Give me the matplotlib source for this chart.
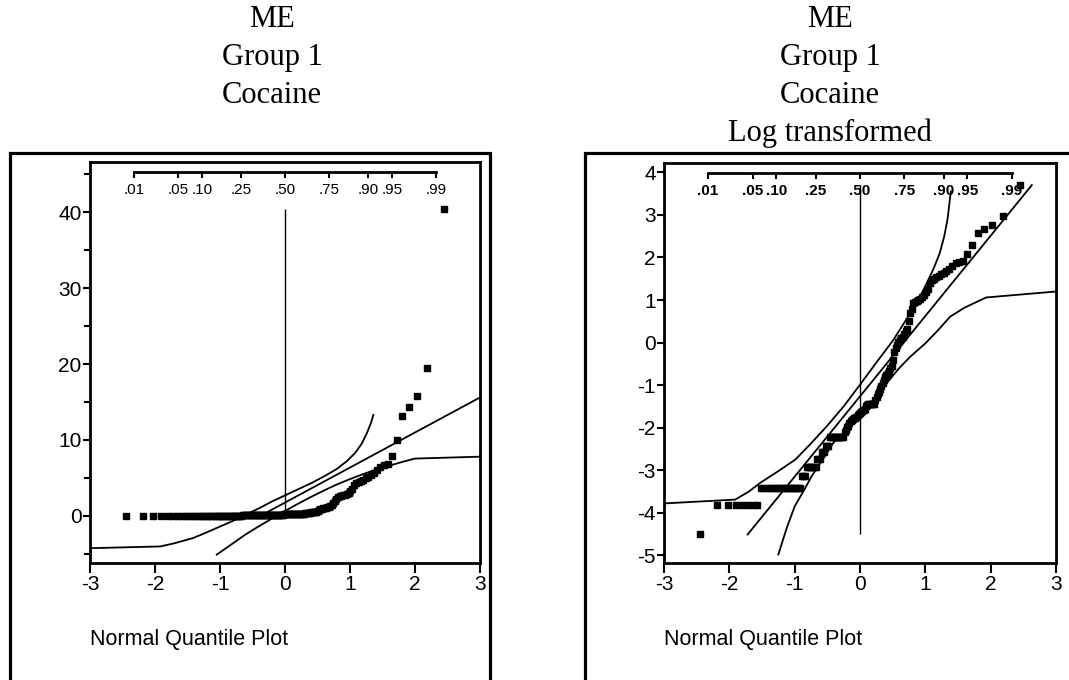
import numpy as np
import matplotlib.pyplot as plt
from matplotlib.patches import Rectangle
from matplotlib.ticker import MultipleLocator
from statistics import NormalDist

plt.rcParams['font.family'] = 'Liberation Sans'
plt.rcParams['axes.unicode_minus'] = False

# sorted ME values of the 139 subjects, natural log
log_me = [
    -4.51,
    -3.82, -3.82, -3.82, -3.82, -3.82, -3.82, -3.82,
    -3.42, -3.42, -3.42, -3.42, -3.42, -3.42, -3.42, -3.42, -3.42,
    -3.42, -3.42, -3.42, -3.42, -3.42, -3.42, -3.42, -3.42,
    -3.13, -3.13, -3.13,
    -2.93, -2.93, -2.93, -2.93, -2.93, -2.93, -2.93,
    -2.74, -2.74, -2.74,
    -2.57, -2.57, -2.57,
    -2.42, -2.42, -2.42,
    -2.21, -2.21, -2.21, -2.21, -2.21, -2.21, -2.21, -2.21, -2.21, -2.21, -2.21, -2.21,
    -2.10, -2.05, -1.98, -1.95, -1.89, -1.85, -1.83, -1.80, -1.78, -1.77,
    -1.74, -1.70, -1.68, -1.66, -1.63, -1.60, -1.58, -1.57, -1.50, -1.47,
    -1.45, -1.45, -1.45, -1.45, -1.45, -1.45,
    -1.35, -1.27, -1.20, -1.15, -1.10, -1.03, -0.95, -0.88, -0.82, -0.77,
    -0.72, -0.66, -0.60, -0.55, -0.40, -0.22, -0.13, -0.05, 0.02, 0.06,
    0.10, 0.14, 0.20, 0.27, 0.32, 0.50, 0.69, 0.80, 0.92, 0.95,
    0.97, 1.00, 1.03, 1.07, 1.12, 1.20, 1.27, 1.40, 1.47, 1.50,
    1.53, 1.56, 1.60, 1.63, 1.68, 1.74, 1.80, 1.86, 1.90, 1.92,
    2.07, 2.30, 2.58, 2.66, 2.76, 2.97, 3.70,
]

# probability scale along the top
probs = [0.01, 0.05, 0.10, 0.25, 0.50, 0.75, 0.90, 0.95, 0.99]
prob_labels = ['.01', '.05', '.10', '.25', '.50', '.75', '.90', '.95', '.99']

# fitted line and confidence curves, raw scale (left)
raw_ref_x = [-0.38, 3.0]
raw_ref_y = [0.0, 15.6]
raw_up_x = [-3.0, -1.92, -1.7, -1.41, -1.2, -1.0, -0.8, -0.62, -0.4, -0.2, 0.0,
            0.2, 0.4, 0.6, 0.8, 0.95, 1.08, 1.18, 1.26, 1.32, 1.36]
raw_up_y = [-4.25, -4.02, -3.6, -2.9, -2.15, -1.4, -0.65, 0.1, 1.0, 1.9, 2.7,
            3.5, 4.3, 5.2, 6.2, 7.2, 8.3, 9.5, 10.9, 12.2, 13.3]
raw_lo_x = [-1.05, -0.9, -0.75, -0.6, -0.4, -0.2, 0.0, 0.2, 0.4, 0.6, 0.8,
            1.0, 1.2, 1.4, 1.6, 1.8, 2.0, 3.0]
raw_lo_y = [-5.1, -4.2, -3.3, -2.4, -1.35, -0.35, 0.65, 1.6, 2.5, 3.35, 4.15,
            4.85, 5.5, 6.1, 6.6, 7.1, 7.55, 7.8]

# same for the log transformed data (right)
log_ref_x = [-1.72, 2.63]
log_ref_y = [-4.51, 3.70]
log_up_x = [-3.0, -1.91, -1.7, -1.53, -1.25, -0.99, -0.75, -0.51, -0.25, 0.0,
            0.25, 0.51, 0.77, 0.92, 1.02, 1.13, 1.22, 1.29, 1.34, 1.39]
log_up_y = [-3.78, -3.69, -3.5, -3.30, -3.02, -2.75, -2.37, -1.97, -1.5, -0.99,
            -0.47, 0.06, 0.69, 1.08, 1.39, 1.75, 2.1, 2.5, 2.9, 3.55]
log_lo_x = [-1.25, -1.12, -1.0, -0.85, -0.74, -0.55, -0.41, -0.2, 0.0, 0.2,
            0.41, 0.6, 0.77, 1.0, 1.2, 1.38, 1.6, 1.93, 3.0]
log_lo_y = [-4.98, -4.35, -3.85, -3.45, -3.14, -2.7, -2.36, -2.05, -1.74, -1.35,
            -0.95, -0.6, -0.33, -0.02, 0.3, 0.61, 0.82, 1.06, 1.2]

n = len(log_me)
z = np.array([NormalDist().inv_cdf(i / (n + 1)) for i in range(1, n + 1)])
log_me = np.array(log_me)
raw_me = np.exp(log_me)
prob_z = [NormalDist().inv_cdf(p) for p in probs]

W, H = 1069, 680
fig = plt.figure(figsize=(W / 100, H / 100), dpi=100)
ax1 = fig.add_axes([90 / W, 117 / H, 390 / W, 401 / H])
ax2 = fig.add_axes([664 / W, 117 / H, 392 / W, 400 / H])


def draw_panel(ax, y, ref, up, lo, ylim, bold):
    ax.plot(z, y, 's', ms=4.6, color='black', mec='black', zorder=4, clip_on=False)
    ax.vlines(0, y.min(), y.max(), color='black', lw=1.0, zorder=5)
    ax.plot(ref[0], ref[1], color='black', lw=1.3)
    ax.plot(up[0], up[1], color='black', lw=1.3)
    ax.plot(lo[0], lo[1], color='black', lw=1.3)
    ax.set_xlim(-3, 3)
    ax.set_ylim(*ylim)
    ax.set_xticks(range(-3, 4))
    for s in ax.spines.values():
        s.set_linewidth(2)
    ax.tick_params(axis='x', length=7, width=1.5, labelsize=15, pad=2)
    ax.tick_params(axis='y', length=5, width=1.5, labelsize=15, pad=1)
    ax.text(0, -0.19, 'Normal Quantile Plot', transform=ax.transAxes,
            fontsize=15.5, va='center', ha='left')

    sec = ax.secondary_xaxis(0.975)
    sec.set_alignment('bottom')
    sec.set_ticks(prob_z, labels=prob_labels)
    sec.spines['bottom'].set_bounds(prob_z[0], prob_z[-1])
    sec.spines['bottom'].set_linewidth(2)
    sec.tick_params(direction='out', length=4, width=1.5, pad=4, labelsize=11)
    if bold:
        for lab in sec.get_xticklabels():
            lab.set_fontweight('bold')


draw_panel(ax1, raw_me, (raw_ref_x, raw_ref_y), (raw_up_x, raw_up_y),
           (raw_lo_x, raw_lo_y), (-6.2, 46.6), False)
ax1.set_yticks([0, 10, 20, 30, 40])
ax1.yaxis.set_minor_locator(MultipleLocator(5))
ax1.tick_params(axis='y', which='minor', length=4, width=1.5)

draw_panel(ax2, log_me, (log_ref_x, log_ref_y), (log_up_x, log_up_y),
           (log_lo_x, log_lo_y), (-5.18, 4.22), True)
ax2.set_yticks(range(-5, 5))

# frames around each panel
fig.add_artist(Rectangle((10 / W, -0.05), 480 / W, 0.05 + 527 / H, transform=fig.transFigure,
                         fill=False, lw=2.3, color='black'))
fig.add_artist(Rectangle((585 / W, -0.05), 0.5, 0.05 + 527 / H, transform=fig.transFigure,
                         fill=False, lw=2.3, color='black'))

# titles
left_title = ['ME', 'Group 1', 'Cocaine']
right_title = ['ME', 'Group 1', 'Cocaine', 'Log transformed']
for i, line in enumerate(left_title):
    fig.text(272 / W, 1 - (27 + 38 * i) / H, line, ha='center', va='baseline',
             family='Liberation Serif', fontsize=22)
for i, line in enumerate(right_title):
    fig.text(830 / W, 1 - (27 + 38 * i) / H, line, ha='center', va='baseline',
             family='Liberation Serif', fontsize=22)

fig.savefig('out.png', dpi=100)
